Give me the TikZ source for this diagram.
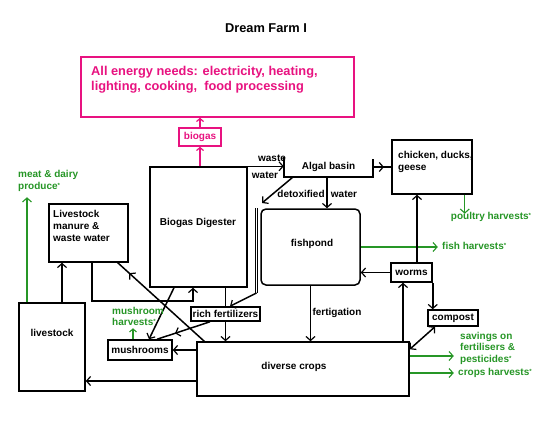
\documentclass[tikz,border=0pt]{standalone}
\usepackage{fontspec}
\setmainfont{Liberation Sans}
\usetikzlibrary{arrows.meta,decorations.markings}
\definecolor{pinkc}{RGB}{232,18,128}
\definecolor{greenc}{RGB}{38,150,38}
\newcommand{\lblfont}{\fontsize{10}{12}\selectfont\bfseries}
\newcommand{\bigfnt}{\fontsize{12.8}{15}\selectfont\bfseries}
\newcommand{\fnast}{\raisebox{2pt}{\fontsize{6}{6}\selectfont *}}
\begin{document}
\begin{tikzpicture}[x=1pt,y=-1pt,
  ln/.style={line width=1.5pt},
  conn/.style={ln,-{Straight Barb[length=4pt,width=9pt,line width=1.2pt]}},
  gconn/.style={line width=1.1pt,draw=greenc,-{Straight Barb[length=4pt,width=9pt]}},
  pconn/.style={line width=1.2pt,draw=pinkc,-{Straight Barb[length=3pt,width=7pt]}},
  box/.style={draw,line width=1.5pt,fill=white,inner sep=0pt,font=\lblfont},
  txt/.style={inner sep=0pt,font=\lblfont},
  gtxt/.style={txt,text=greenc,align=left},
  midarrow/.style={postaction={decorate},decoration={markings,mark=at position #1 with {\arrow{Straight Barb[length=4pt,width=9pt,line width=1.2pt]}}}},
]
\fill[white] (0,0) rectangle (553,423);
\useasboundingbox (0,0) rectangle (553,423);

% title and energy box
\node[inner sep=0pt,font=\bigfnt] (title) at (266,28) {Dream Farm I};
\node[box,draw=pinkc,minimum width=273pt,minimum height=60pt] (pink) at (217.5,87) {};
\node[inner sep=0pt,font=\bigfnt,text=pinkc,anchor=west,align=left] (pinkT) at (91,79.5)
  {All energy needs: electricity, heating,\\lighting, cooking,\ \ food processing};
\node[box,draw=pinkc,text=pinkc,minimum width=42pt,minimum height=18pt] (biogas) at (200,137) {biogas};

% boxes
\node[box,minimum width=97pt,minimum height=120pt] (digester) at (198.5,227) {};
\node[txt] (digT) at (198,223) {Biogas Digester};
\node[box,minimum width=79pt,minimum height=58pt] (manure) at (88.5,233) {};
\node[txt,anchor=west,align=left] (manureT) at (53,226) {Livestock\\manure \&\\waste water};
\node[box,minimum width=66pt,minimum height=88pt] (livestock) at (52,347) {};
\node[txt] (livestockT) at (52,333) {livestock};
\node[box,minimum width=212pt,minimum height=54pt] (crops) at (303,369) {};
\node[txt] (cropsT) at (294,367) {diverse crops};
\node[box,minimum width=64pt,minimum height=20pt] (mushrooms) at (140,350) {mushrooms};
\node[box,rounded corners=5pt,minimum width=99pt,minimum height=76pt] (fishpond) at (310.5,247) {};
\node[txt] (fishT) at (312,244) {fishpond};
\node[box,minimum width=80pt,minimum height=54pt] (chicken) at (432,167) {};
\node[txt,anchor=west,align=left] (chickenT) at (398,162) {chicken, ducks,\\geese};
\node[box,minimum width=41pt,minimum height=19pt] (worms) at (411.5,272.5) {worms};
\node[box,minimum width=50pt,minimum height=16pt] (compost) at (453,318) {compost};
\node[txt,minimum width=89pt,minimum height=20pt] (algal) at (328.5,167) {Algal basin};

% connectors (rich fertilizers line drawn in two parts)
\coordinate (detoxend) at (262,203);
\coordinate (dtop) at (256.5,208);
\coordinate (dbot) at (256.5,293);

\draw[pconn] (biogas.south |- digester.north) -- (biogas.south);
\draw[pconn] (biogas.north) -- (biogas.north |- pink.south);

\draw[conn] (digester.north east) -- (digester.north east -| algal.west);
\draw[ln] (algal.north west) -- (algal.south west) -- (algal.south east) -- ([yshift=-2pt]algal.north east);
\draw[ln,midarrow=0.6] (algal.east) -- (algal.east -| chicken.west);
\draw[conn] ([xshift=-1.5pt]algal.south) -- ([xshift=-1.5pt]algal.south |- fishpond.north);
\draw[conn] ([xshift=9pt]algal.south west) -- (detoxend);
\draw[line width=0.8pt,double=white,double distance=1.4pt] (dtop) -- (dbot);

\node[box,minimum width=69pt,minimum height=14pt] (richfert) at (225.5,314) {rich fertilizers};

\draw[conn] (dbot) -- ([xshift=4.5pt]richfert.north);
\draw[ln] (richfert.north |- digester.south) -- (richfert.north);
\draw[conn] (richfert.south) -- (richfert.south |- crops.north);
\draw[conn] ([xshift=-24.5pt]digester.south) -- ([xshift=9pt]mushrooms.north);
\draw[ln,midarrow=0.66] ([xshift=-15.5pt]richfert.south) -- ([xshift=17pt]mushrooms.north);
\draw[ln,midarrow=0.87] ([xshift=8pt]crops.north west) -- ([xshift=-11pt]manure.south east);
\draw[conn] ([xshift=3.5pt]manure.south) -- ++(0,38) -| ([xshift=-5.5pt]digester.south);
\draw[conn] ([xshift=10pt]livestock.north) -- ([xshift=10pt]livestock.north |- manure.south);
\draw[gconn] ([xshift=-25pt]livestock.north) -- ++(0,-105);
\draw[conn] (crops.west |- mushrooms.east) -- (mushrooms.east);
\draw[conn] ([yshift=-12pt]crops.west) -- ([yshift=-12pt]crops.west -| livestock.east);
\draw[line width=1.1pt,draw=greenc,-{Straight Barb[length=3pt,width=7pt]}] ([xshift=-7pt]mushrooms.north) -- ++(0,-11);
\draw[conn] (fishpond.south) -- (fishpond.south |- crops.north);
\draw[gconn] (fishpond.east) -- ++(77,0);
\draw[gconn] ([xshift=-8pt]chicken.south east) -- ++(0,19);
\draw[conn] (worms.west) -- (worms.west -| fishpond.east);
\draw[conn] ([xshift=5.5pt]worms.north) -- ([xshift=5.5pt]worms.north |- chicken.south);
\draw[conn] ([xshift=-8.5pt]worms.south |- crops.north) -- ([xshift=-8.5pt]worms.south);
\draw[conn] (worms.south east) -- (worms.south east |- compost.north);
\draw[ln,{Straight Barb[length=4pt,width=9pt,line width=1.2pt]}-{Straight Barb[length=4pt,width=9pt,line width=1.2pt]}] ([xshift=-18pt]compost.south) -- ([yshift=-8pt]crops.north east);
\draw[gconn] ([yshift=13pt]crops.east) -- ++(44,0);
\draw[gconn] ([yshift=-4pt]crops.east) -- ++(44,0);

% labels
\node[txt] (wasteT) at (272,158) {waste};
\node[txt] (waterT) at (265,175) {water};
\node[txt] (detoxT) at (301,194) {detoxified};
\node[txt] (water2T) at (344,194) {water};
\node[txt] (fertT) at (337,313) {fertigation};
\node[gtxt,anchor=west] (meatT) at (18,181) {meat \& dairy\\produce\fnast};
\node[gtxt,anchor=west,font=\fontsize{10}{11}\selectfont\bfseries] (mushT) at (112,316.5) {mushroom\\harvests\fnast};
\node[gtxt] (poultryT) at (491,217) {poultry harvests\fnast};
\node[gtxt,anchor=west] (fishhT) at (442,246) {fish harvests\fnast};
\node[gtxt,anchor=west,font=\fontsize{10}{11.5}\selectfont\bfseries] (savT) at (460,348) {savings on\\fertilisers \&\\pesticides\fnast};
\node[gtxt,anchor=west] (cropshT) at (458,373) {crops harvests\fnast};
\end{tikzpicture}
\end{document}
